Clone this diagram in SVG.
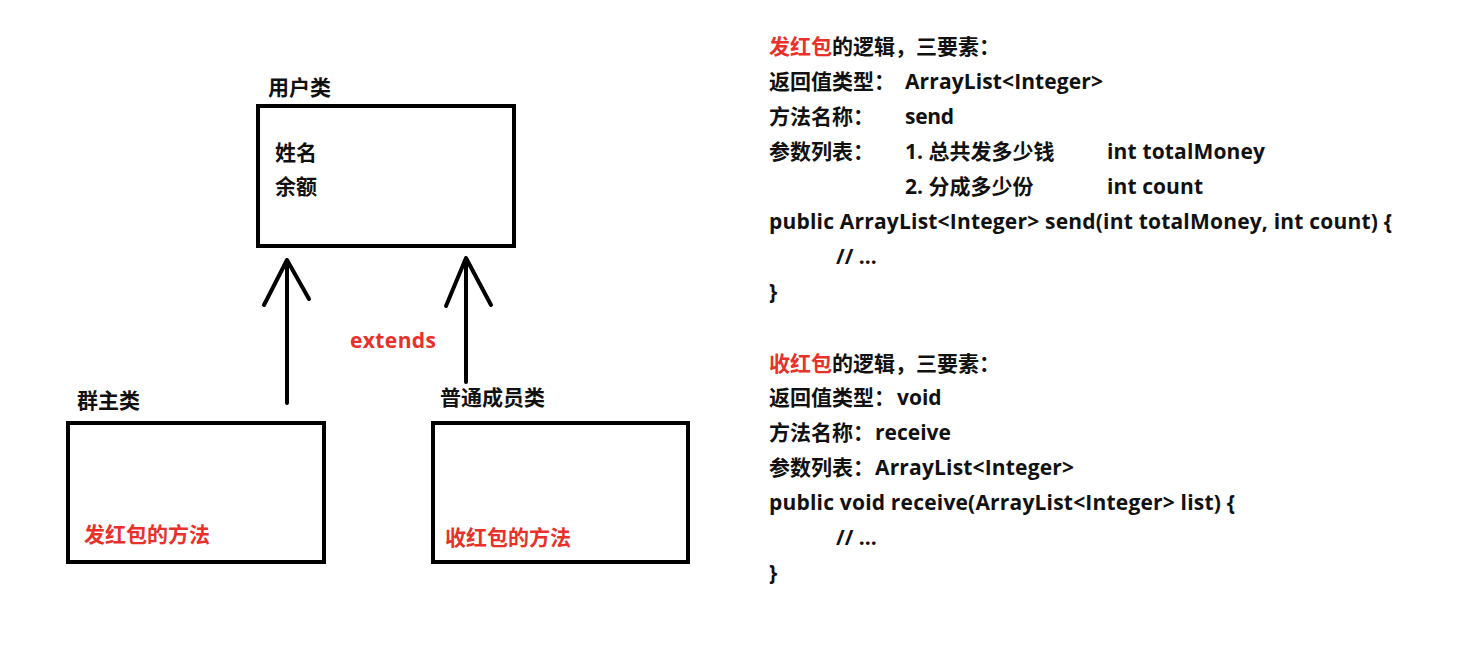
<svg xmlns="http://www.w3.org/2000/svg" width="1462" height="647" viewBox="0 0 1462 647">
<style>
.t{font-family:"Open Sans","Noto Sans CJK SC",sans-serif;font-weight:bold;fill:#111}
.l{font-size:21px}
.r{font-size:21px}
.red{fill:#e8312a}
.box{fill:none;stroke:#000;stroke-width:4}
.ar{fill:none;stroke:#000;stroke-width:4;stroke-linecap:round;stroke-linejoin:round}
</style>
<rect width="1462" height="647" fill="#fff"/>
<g id="user">
<text class="t l" x="268" y="95">用户类</text>
<rect class="box" x="258" y="106" width="256" height="140"/>
<text class="t l" x="275" y="160">姓名</text>
<text class="t l" x="275" y="194">余额</text>
</g>
<g id="owner">
<text class="t l" x="77" y="408">群主类</text>
<rect class="box" x="68" y="423" width="256" height="139"/>
<text class="t l red" x="84" y="542">发红包的方法</text>
</g>
<g id="member">
<text class="t l" x="440" y="405">普通成员类</text>
<rect class="box" x="433" y="423" width="255" height="139"/>
<text class="t l red" x="445" y="545">收红包的方法</text>
</g>
<g id="connectors">
<path class="ar" d="M287 403V260M264 305L287 260L309 299"/>
<path class="ar" d="M466 382V258M446 306L466 258L491 305"/>
<text class="t l red" x="350" y="348" textLength="86">extends</text>
</g>
<g id="notes">
<text class="t r" x="769" y="54"><tspan class="red">发红包</tspan>的逻辑，三要素：</text>
<text class="t r" x="769" y="89">返回值类型：</text>
<text class="t r" x="905" y="89" textLength="198">ArrayList&lt;Integer&gt;</text>
<text class="t r" x="769" y="124">方法名称：</text>
<text class="t r" x="905" y="124" textLength="49">send</text>
<text class="t r" x="769" y="159">参数列表：</text>
<text class="t r" x="905" y="159">1. 总共发多少钱</text>
<text class="t r" x="1107" y="159" textLength="158">int totalMoney</text>
<text class="t r" x="905" y="194">2. 分成多少份</text>
<text class="t r" x="1107" y="194" textLength="96">int count</text>
<text class="t r" x="769" y="229" textLength="623">public ArrayList&lt;Integer&gt; send(int totalMoney, int count) {</text>
<text class="t r" x="836" y="264">// ...</text>
<text class="t r" x="769" y="299">}</text>
<text class="t r" x="769" y="371"><tspan class="red">收红包</tspan>的逻辑，三要素：</text>
<text class="t r" x="769" y="405">返回值类型：</text>
<text class="t r" x="897" y="405">void</text>
<text class="t r" x="769" y="440">方法名称：</text>
<text class="t r" x="875" y="440">receive</text>
<text class="t r" x="769" y="475">参数列表：</text>
<text class="t r" x="875" y="475" textLength="199">ArrayList&lt;Integer&gt;</text>
<text class="t r" x="769" y="510" textLength="466">public void receive(ArrayList&lt;Integer&gt; list) {</text>
<text class="t r" x="836" y="545">// ...</text>
<text class="t r" x="769" y="580">}</text>
</g>
</svg>
